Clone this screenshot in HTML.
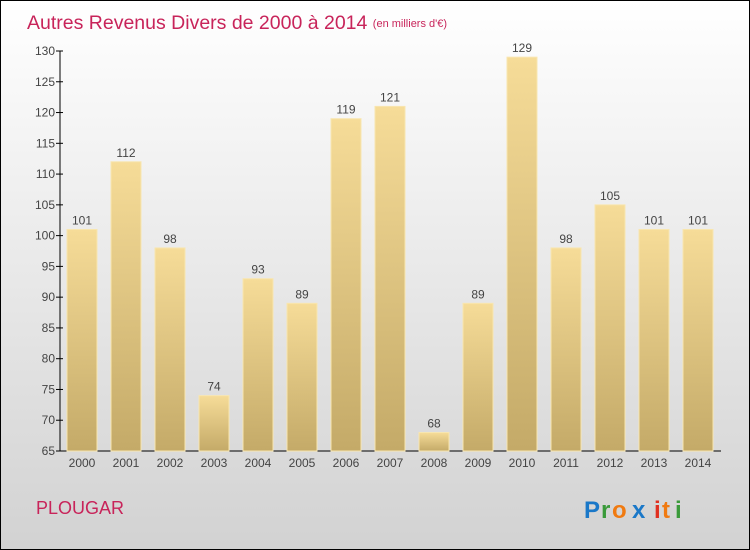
<!DOCTYPE html>
<html><head><meta charset="utf-8"><style>
body{margin:0}
#c{position:relative;width:748px;height:548px;border:1px solid #000;background:linear-gradient(#ffffff,#d2d2d2);font-family:"Liberation Sans",sans-serif;overflow:hidden}
</style></head><body>
<div id="c">
<svg id="s" width="748" height="548" style="position:absolute;left:0;top:0">
<defs><linearGradient id="g" x1="0" y1="0" x2="0" y2="1"><stop offset="0" stop-color="#f6dc98"/><stop offset="1" stop-color="#c4aa68"/></linearGradient></defs>
<text x="26" y="28" font-size="19.5" fill="#c8245a">Autres Revenus Divers de 2000 à 2014 <tspan font-size="11" dy="-2">(en milliers d'€)</tspan></text>
<text x="35" y="513" font-size="18" fill="#c8245a">PLOUGAR</text>
<g font-size="24" font-weight="bold">
<text x="583" y="517" fill="#1a78c8">P</text><text x="600" y="517" fill="#3a9a3a">r</text><text x="611" y="517" fill="#f07a10">o</text><text x="631" y="517" fill="#1a78c8">x</text><text x="653" y="517" fill="#e03020">i</text><text x="661" y="517" fill="#f07a10">t</text><text x="674" y="517" fill="#3a9a3a">i</text></g>
<g id="plot"></g>
</svg></div>
<script>
const years=["2000","2001","2002","2003","2004","2005","2006","2007","2008","2009","2010","2011","2012","2013","2014"];
const values=[101,112,98,74,93,89,119,121,68,89,129,98,105,101,101];
const ticks=[65,70,75,80,85,90,95,100,105,110,115,120,125,130];
const ns="http://www.w3.org/2000/svg",p=document.getElementById('plot');
const y=v=>450-(v-65)*(400/65), x=i=>81+i*44;
function mk(t,a,txt){const e=document.createElementNS(ns,t);for(const k in a)e.setAttribute(k,a[k]);if(txt!=null)e.textContent=txt;p.appendChild(e);return e;}
let ax=mk('line',{x1:59,y1:y(130),x2:59,y2:450,stroke:'#000'});


let bx=mk('line',{x1:59,y1:450,x2:720,y2:450,stroke:'#000'});


ticks.forEach(t=>{
 let l=mk('line',{x1:55,y1:y(t),x2:62,y2:y(t),stroke:'#000'});
 
 
 let tx=mk('text',{x:54,y:y(t)+4,'text-anchor':'end','font-size':12,fill:'#444'},t);
 
 
});
years.forEach((yr,i)=>{
 let r=mk('rect',{x:x(i)-15,y:y(values[i]),width:30,height:450-y(values[i]),fill:'url(#g)',stroke:'#f8e6b0','stroke-width':1});
 
 
 let v=mk('text',{x:x(i),y:y(values[i])-5,'text-anchor':'middle','font-size':12,fill:'#444'},values[i]);
 
 
 let l=mk('text',{x:x(i),y:466,'text-anchor':'middle','font-size':12,fill:'#444'},yr);
 
 
});
</script>
</body></html>
